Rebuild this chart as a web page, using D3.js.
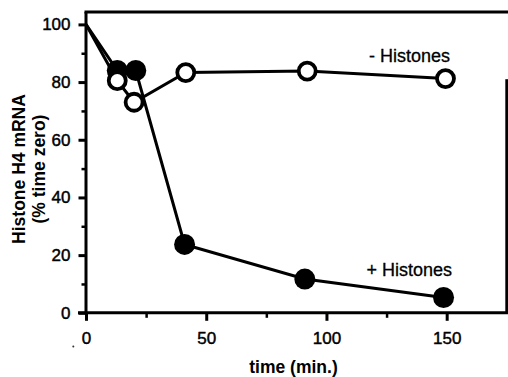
<!DOCTYPE html>
<html>
<head>
<meta charset="utf-8">
<script src="https://cdn.jsdelivr.net/npm/d3@7"></script>
<style>
  html, body { margin: 0; padding: 0; background: #fff; }
  svg { display: block; font-family: "Liberation Sans", Arial, Helvetica, sans-serif; }
  .tick text { font-size: 17px; fill: #000; stroke: #000; stroke-width: 0.45px; }
  .note { font-size: 18px; fill: #000; stroke: #000; stroke-width: 0.3px; }
  .title { font-size: 17.5px; font-weight: bold; fill: #000; }
</style>
</head>
<body>
<svg id="chart" width="508" height="377"></svg>
<script>
// time points (min.) and % of time-zero H4 mRNA
const timeMinus = [0, 13, 20, 41.5, 92, 149.5];
const valMinus  = [100, 80.5, 73, 83.3, 83.8, 81.2];
const timePlus  = [0, 13, 20.7, 41, 91, 148.7];
const valPlus   = [100, 84, 84, 23.7, 11.7, 5.3];

const xTicks = [0, 50, 100, 150];
const xMinor = [25, 75, 125];
const yTicks = [0, 20, 40, 60, 80, 100];
const yMinor = [10, 30, 50, 70, 90];

const minusData = timeMinus.map((t, i) => ({ t, v: valMinus[i] }));
const plusData  = timePlus.map((t, i) => ({ t, v: valPlus[i] }));

const svg = d3.select('#chart');

const x = d3.scaleLinear().domain([0, 175]).range([86, 506.8]);
const y = d3.scaleLinear().domain([0, 104.3]).range([312.8, 12]);

const line = d3.line()
    .x(d => x(d.t))
    .y(d => y(d.v));

// minor ticks (no labels)
svg.append('g')
    .attr('transform', `translate(0,${y(0)})`)
    .call(d3.axisBottom(x).tickValues(xMinor).tickSize(5).tickFormat(''))
    .call(g => g.select('.domain').remove())
    .call(g => g.selectAll('line').attr('stroke-width', 2.5));

svg.append('g')
    .attr('transform', `translate(${x(0)},0)`)
    .call(d3.axisLeft(y).tickValues(yMinor).tickSize(4.5).tickFormat(''))
    .call(g => g.select('.domain').remove())
    .call(g => g.selectAll('line').attr('stroke-width', 2.5));

// main axes
svg.append('g')
    .attr('transform', `translate(0,${y(0)})`)
    .call(d3.axisBottom(x).tickValues(xTicks).tickSize(8).tickPadding(11).tickSizeOuter(0))
    .call(g => g.select('.domain').remove())
    .call(g => g.selectAll('line').attr('stroke-width', 3));

svg.append('g')
    .attr('transform', `translate(${x(0)},0)`)
    .call(d3.axisLeft(y).tickValues(yTicks).tickSize(7.5).tickPadding(8).tickSizeOuter(0))
    .call(g => g.select('.domain').remove())
    .call(g => g.selectAll('line').attr('stroke-width', 3));

// frame: left, bottom, top, right (right edge only partly visible in the scan)
const frame = svg.append('g').attr('stroke', '#000').attr('stroke-width', 3).attr('fill', 'none');
frame.append('line').attr('x1', x(0)).attr('x2', x(0)).attr('y1', y(104.3)).attr('y2', y(0) + 1.5);
frame.append('line').attr('x1', x(0) - 8).attr('x2', 508).attr('y1', y(0)).attr('y2', y(0));
frame.append('line').attr('x1', x(0) - 1.5).attr('x2', 508).attr('y1', y(104.3)).attr('y2', y(104.3));
frame.append('line').attr('x1', x(175)).attr('x2', x(175)).attr('y1', y(81)).attr('y2', y(0));

// - Histones line
svg.append('path')
    .datum(minusData)
    .attr('d', line)
    .attr('fill', 'none')
    .attr('stroke', '#000')
    .attr('stroke-width', 3);

// + Histones markers
svg.append('g')
    .selectAll('circle')
    .data(plusData.slice(1))
    .enter().append('circle')
    .attr('cx', d => x(d.t))
    .attr('cy', d => y(d.v))
    .attr('r', 10.5)
    .attr('fill', '#000');

// - Histones markers (open)
svg.append('g')
    .selectAll('circle')
    .data(minusData.slice(1))
    .enter().append('circle')
    .attr('cx', d => x(d.t))
    .attr('cy', d => y(d.v))
    .attr('r', 8.5)
    .attr('fill', '#fff')
    .attr('stroke', '#000')
    .attr('stroke-width', 3.8);

// + Histones line
svg.append('path')
    .datum(plusData)
    .attr('d', line)
    .attr('fill', 'none')
    .attr('stroke', '#000')
    .attr('stroke-width', 3);

// series labels
svg.append('text')
    .attr('class', 'note')
    .attr('x', 450).attr('y', 61.5)
    .attr('text-anchor', 'end')
    .text('- Histones');

svg.append('text')
    .attr('class', 'note')
    .attr('x', 452).attr('y', 276)
    .attr('text-anchor', 'end')
    .text('+ Histones');

// axis titles
svg.append('text')
    .attr('class', 'title')
    .attr('x', 293.5).attr('y', 372.5)
    .attr('text-anchor', 'middle')
    .text('time (min.)');

const yTitle = svg.append('text')
    .attr('class', 'title')
    .attr('transform', 'translate(0,169) rotate(-90)')
    .attr('text-anchor', 'middle');
yTitle.append('tspan').attr('x', 0).attr('y', 25).text('Histone H4 mRNA');
yTitle.append('tspan').attr('x', 0).attr('y', 45).text('(% time zero)');

// speck from the scan
svg.append('circle').attr('cx', 73.3).attr('cy', 346.5).attr('r', 1).attr('fill', '#333');
</script>
</body>
</html>
